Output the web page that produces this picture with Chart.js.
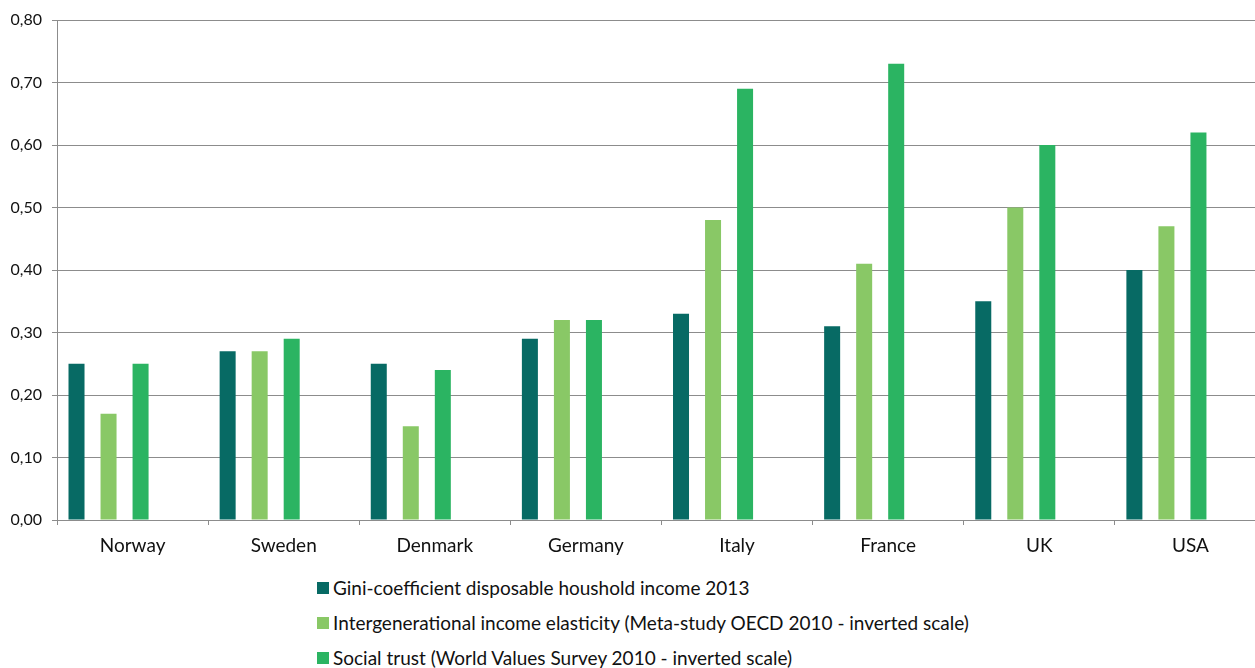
<!DOCTYPE html>
<html>
<head>
<meta charset="utf-8">
<script src="https://cdn.jsdelivr.net/npm/chart.js@4/dist/chart.umd.min.js"></script>
<style>
  html, body { margin: 0; padding: 0; background: #fff; overflow: hidden; }
  #wrap { position: absolute; left: 0; top: 0; width: 1266px; height: 560px; }
  .legend { position: absolute; left: 317px; font-family: Lato, sans-serif; font-size: 19px; color: #111; }
  .legend div { position: relative; height: 35px; line-height: 24px; padding-left: 16px; white-space: nowrap; }
  .legend span { position: absolute; left: 0; top: 6px; width: 12px; height: 12px; }
</style>
</head>
<body>
<div id="wrap"><canvas id="chart"></canvas></div>
<div class="legend" id="legend" style="top:576px"></div>
<script>
// values
const countries = ["Norway", "Sweden", "Denmark", "Germany", "Italy", "France", "UK", "USA"];
const gini = [0.25, 0.27, 0.25, 0.29, 0.33, 0.31, 0.35, 0.40];
const elasticity = [0.17, 0.27, 0.15, 0.32, 0.48, 0.41, 0.50, 0.47];
const trust = [0.25, 0.29, 0.24, 0.32, 0.69, 0.73, 0.60, 0.62];
const seriesNames = [
  "Gini-coefficient disposable houshold income 2013",
  "Intergenerational income elasticity (Meta-study OECD 2010 - inverted scale)",
  "Social trust (World Values Survey 2010 - inverted scale)"
];
const colors = ["#076a64", "#89c866", "#2bb462"];

// Excel puts each bar at the left of its slot, shift by half a bar
const leftInSlot = {
  id: "leftInSlot",
  afterDatasetsUpdate(chart) {
    chart.data.datasets.forEach((ds, i) => {
      chart.getDatasetMeta(i).data.forEach(bar => {
        bar.x -= bar.width / 2;
      });
    });
  }
};

const gridColor = "#8c8c8c";

const ctx = document.getElementById("chart").getContext("2d");
new Chart(ctx, {
  type: "bar",
  data: {
    labels: countries,
    datasets: [
      { label: seriesNames[0], data: gini, backgroundColor: colors[0] },
      { label: seriesNames[1], data: elasticity, backgroundColor: colors[1] },
      { label: seriesNames[2], data: trust, backgroundColor: colors[2] },
      { label: "", data: countries.map(() => null), backgroundColor: "transparent" }
    ]
  },
  options: {
    responsive: true,
    maintainAspectRatio: false,
    animation: false,
    events: [],
    layout: { padding: { top: 20, right: 0, left: 0, bottom: 0 } },
    datasets: {
      bar: { categoryPercentage: 128 / 151, barPercentage: 0.5 }
    },
    scales: {
      x: {
        afterFit(scale) { scale.height = 40; },
        grid: {
          offset: true,
          drawOnChartArea: false,
          drawTicks: true,
          tickLength: 5,
          color: gridColor
        },
        border: { color: gridColor },
        ticks: {
          padding: 9,
          color: "#111",
          font: { family: "Lato", size: 19 }
        }
      },
      y: {
        min: 0,
        max: 0.8,
        afterFit(scale) { scale.width = 57; },
        grid: { color: gridColor, tickLength: 5 },
        border: { color: gridColor },
        ticks: {
          stepSize: 0.1,
          padding: 10,
          color: "#111",
          font: { family: "Lato", size: 16 },
          callback: v => v.toFixed(2).replace(".", ",")
        }
      }
    },
    plugins: {
      legend: { display: false },
      tooltip: { enabled: false }
    }
  },
  plugins: [leftInSlot]
});

// legend as real text, one series per row like the original
const legendEl = document.getElementById("legend");
seriesNames.forEach((name, i) => {
  const row = document.createElement("div");
  const box = document.createElement("span");
  box.style.background = colors[i];
  row.appendChild(box);
  row.appendChild(document.createTextNode(name));
  legendEl.appendChild(row);
});
</script>
</body>
</html>
